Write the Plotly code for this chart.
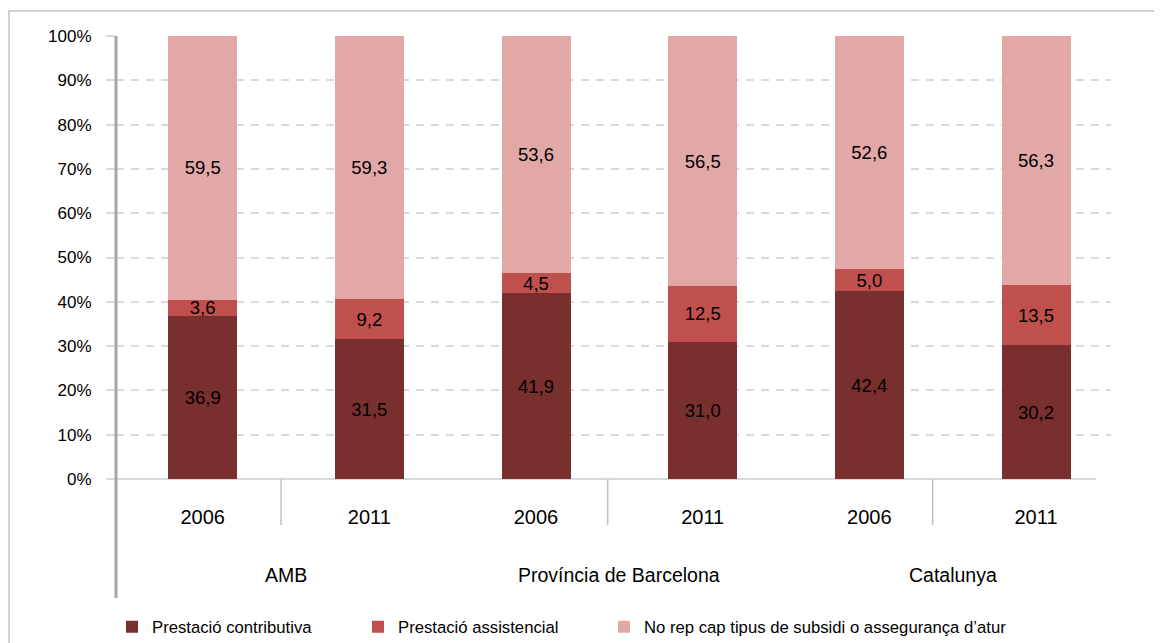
import plotly.graph_objects as go

groups = ["AMB", "Província de Barcelona", "Catalunya"]
years = ["2006", "2011"]
series_names = ["Prestació contributiva", "Prestació assistencial",
                "No rep cap tipus de subsidi o assegurança d’atur"]
contributiva = [36.9, 31.5, 41.9, 31.0, 42.4, 30.2]
assistencial = [3.6, 9.2, 4.5, 12.5, 5.0, 13.5]
no_rep = [59.5, 59.3, 53.6, 56.5, 52.6, 56.3]
y_ticks = [0, 10, 20, 30, 40, 50, 60, 70, 80, 90, 100]
y_ticktext = [f"{v}%" for v in y_ticks]

colors = ["#782F2D", "#C0504D", "#E2A8A7"]
FONT = "Liberation Sans, Arial, sans-serif"

# page body has an 8px default margin; work in screen pixels and subtract it
OFF = 8
W, H = 1162 - OFF, 643 - OFF
PLOT_L, PLOT_R, PLOT_T, PLOT_B = 116, 1111, 36, 479  # screen px
L, R, T, B = PLOT_L - OFF, W - (PLOT_R - OFF), PLOT_T - OFF, H - (PLOT_B - OFF)
XMIN, XMAX = -0.52, 5.45

n = len(groups) * len(years)
xpos = list(range(n))
xlabels = [y for g in groups for y in years]

def fmt(v):
    return f"{v:.1f}".replace(".", ",")

def px_x(p):
    return (p - PLOT_L) / (PLOT_R - PLOT_L)

def px_y(p):
    return (PLOT_B - p) / (PLOT_B - PLOT_T)

def data_x_to_paper(x):
    return (x - XMIN) / (XMAX - XMIN)

legend_ids = ["legend", "legend2", "legend3"]
legend_px = [112, 358, 604]

fig = go.Figure()
for name, vals, col, lid in zip(series_names, [contributiva, assistencial, no_rep], colors, legend_ids):
    fig.add_trace(go.Bar(
        x=xpos, y=vals, name=name, marker=dict(color=col, line=dict(width=0)),
        width=0.414, text=[fmt(v) for v in vals], textposition="inside",
        insidetextanchor="middle", textangle=0, constraintext="none",
        insidetextfont=dict(color="black", size=18.5, family=FONT),
        hoverinfo="skip", legend=lid,
    ))

shapes = []
# outer border
shapes.append(dict(type="rect", xref="paper", yref="paper", x0=px_x(9), x1=px_x(1175),
                   y0=px_y(655), y1=px_y(11), line=dict(color="#D0D0D0", width=2)))
# x axis baseline
shapes.append(dict(type="line", xref="paper", yref="paper", x0=px_x(107), x1=px_x(1096),
                   y0=0, y1=0, line=dict(color="#D9D9D9", width=2), layer="below"))
# within-group separators
for sx in [0.47, 2.43, 4.38]:
    shapes.append(dict(type="line", xref="paper", yref="paper",
                       x0=data_x_to_paper(sx), x1=data_x_to_paper(sx),
                       y0=0, y1=px_y(525), line=dict(color="#BFBFBF", width=1.5)))
# vertical y axis line extended
shapes.append(dict(type="line", xref="paper", yref="paper", x0=0, x1=0,
                   y0=px_y(598), y1=1, line=dict(color="#A6A6A6", width=3)))

annotations = []
for gi, g in enumerate(groups):
    cx = (gi * 2 + gi * 2 + 1) / 2
    annotations.append(dict(x=data_x_to_paper(cx), y=px_y(575), xref="paper", yref="paper",
                            text=g, showarrow=False, xanchor="center", yanchor="middle",
                            font=dict(size=19.5, color="black", family=FONT)))

legend_common = dict(orientation="h", yanchor="middle", xanchor="left",
                     font=dict(size=16.7, family=FONT, color="black"),
                     bgcolor="rgba(0,0,0,0)", borderwidth=0)
legends = {}
for lid, lx in zip(legend_ids, legend_px):
    legends[lid] = dict(legend_common, x=px_x(lx), y=px_y(627))

fig.update_layout(
    width=W, height=H,
    margin=dict(l=L, r=R, t=T, b=B, pad=0, autoexpand=False),
    paper_bgcolor="white", plot_bgcolor="white",
    barmode="stack",
    font=dict(family=FONT, color="black"),
    showlegend=True,
    xaxis=dict(range=[XMIN, XMAX], tickmode="array", tickvals=xpos, ticktext=xlabels,
               showgrid=False, zeroline=False, showline=False, ticks="",
               tickfont=dict(size=20, family=FONT, color="black"), ticklabelstandoff=24,
               fixedrange=True),
    yaxis=dict(range=[0, 100], tickmode="array", tickvals=y_ticks, ticktext=y_ticktext,
               showgrid=True, gridcolor="#D9D9D9", gridwidth=2, griddash="8px,7px",
               zeroline=False, showline=False, ticks="outside", ticklen=9,
               tickcolor="#D9D9D9", tickwidth=2, ticklabelstandoff=11,
               tickfont=dict(size=17, family=FONT, color="black"), fixedrange=True),
    shapes=shapes, annotations=annotations,
    **legends,
)

fig.write_html("out.html")
